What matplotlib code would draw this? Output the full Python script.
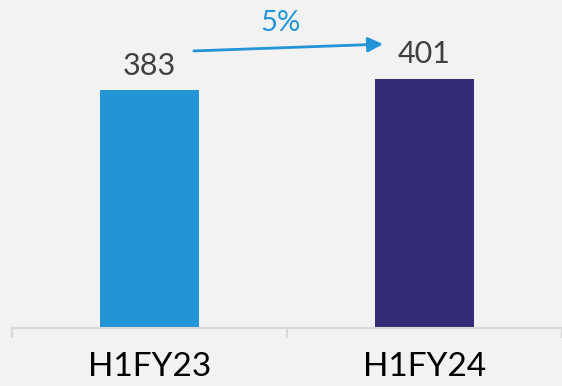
import matplotlib.pyplot as plt

# values
periods = ["H1FY23", "H1FY24"]
revenue = [383, 401]
bar_colors = ["#2394d6", "#332c77"]
growth_label = "5%"

plt.rcParams['font.family'] = ['Lato', 'DejaVu Sans']

fig = plt.figure(figsize=(5.62, 3.86), dpi=100, facecolor="#f2f2f2")
# axes from the left tick to the right edge, baseline ~58px from the bottom
ax = fig.add_axes([12/562, 58/386, 550/562, 328/386])
ax.set_facecolor("#f2f2f2")

x = list(range(len(periods)))
ax.bar(x, revenue, width=0.358, color=bar_colors, zorder=2)

# value labels above the bars
for xi, v in zip(x, revenue):
    ax.text(xi, v + 25, str(v), ha="center", va="baseline", fontsize=22, color="#404040")

# growth arrow between the two bars
ax.annotate("", xy=(0.849, 457), xytext=(0.161, 446),
            arrowprops=dict(arrowstyle="-|>,head_length=0.9,head_width=0.45", color="#2394d6", lw=2, shrinkA=0, shrinkB=0))
ax.text(0.475, 478, growth_label, ha="center", va="baseline", fontsize=21, color="#2394d6")

ax.set_xlim(-0.5, 1.473)
ax.set_ylim(0, 528)

# axis line with category-boundary ticks
for s in ["top", "right", "left"]:
    ax.spines[s].set_visible(False)
ax.spines["bottom"].set_color("#d9d9d9")
ax.spines["bottom"].set_linewidth(1.5)
ax.set_yticks([])
ax.set_xticks([-0.5, 0.5, 1.5])
ax.set_xticklabels([])
ax.tick_params(axis="x", length=7, width=1.5, color="#d9d9d9")
for xi, lab in zip(x, periods):
    ax.text(xi, -39, lab, ha="center", va="top", fontsize=24, color="black",
            transform=ax.transData, clip_on=False)

fig.savefig("out.png", dpi=100, facecolor=fig.get_facecolor())
